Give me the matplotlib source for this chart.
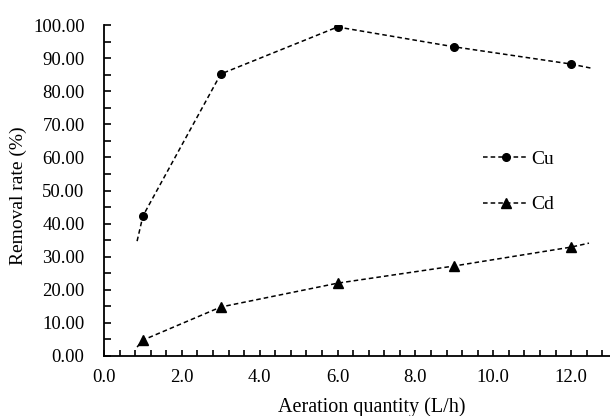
import matplotlib
matplotlib.use("Agg")
from matplotlib import pyplot as plt
from matplotlib.ticker import MultipleLocator, FormatStrFormatter

plt.rcParams['font.family'] = ['Liberation Serif', 'DejaVu Serif']

# measured points
aeration = [1.0, 3.0, 6.0, 9.0, 12.0]
cu_removal = [42.3, 85.2, 99.4, 93.4, 88.2]
cd_removal = [4.8, 14.8, 22.0, 27.2, 32.9]

# the dashed lines run a little past the first and last points
cu_line_x = [0.85, 1.0, 3.0, 6.0, 9.0, 12.0, 12.5]
cu_line_y = [34.7, 42.3, 85.2, 99.4, 93.4, 88.2, 87.0]
cd_line_x = [0.85, 1.0, 3.0, 6.0, 9.0, 12.0, 12.46]
cd_line_y = [2.7, 4.8, 14.8, 22.0, 27.2, 32.9, 34.1]

fig = plt.figure(figsize=(6.1, 4.16), dpi=100)
ax = fig.add_axes([104 / 610, 60 / 416, 506 / 610, 331 / 416])

dash = (0, (3, 2))
ax.plot(cu_line_x, cu_line_y, color='black', lw=1.1, linestyle=dash)
ax.plot(cd_line_x, cd_line_y, color='black', lw=1.1, linestyle=dash)
ax.plot(aeration, cu_removal, 'o', color='black', ms=5.5)
ax.plot(aeration, cd_removal, '^', color='black', ms=6.5)

# legend handles
ax.plot([], [], color='black', lw=1.1, linestyle=dash, marker='o', ms=5.5, label='Cu')
ax.plot([], [], color='black', lw=1.1, linestyle=dash, marker='^', ms=6.5, label='Cd')
ax.legend(loc='upper left', bbox_to_anchor=(0.715, 0.675), frameon=False,
          fontsize=14, handlelength=2.3, handletextpad=0.15, labelspacing=1.45)

ax.set_xlim(0, 13.0)
ax.set_ylim(0, 100)
ax.xaxis.set_major_locator(MultipleLocator(2.0))
ax.xaxis.set_minor_locator(MultipleLocator(0.4))
ax.yaxis.set_major_locator(MultipleLocator(10))
ax.yaxis.set_minor_locator(MultipleLocator(5))
ax.xaxis.set_major_formatter(FormatStrFormatter('%.1f'))
ax.yaxis.set_major_formatter(FormatStrFormatter('%.2f'))

for s in ['top', 'right']:
    ax.spines[s].set_visible(False)
for s in ['left', 'bottom']:
    ax.spines[s].set_linewidth(1.3)

ax.tick_params(axis='x', which='both', direction='in', length=4, width=1.2,
               labelsize=13.5, pad=9)
ax.tick_params(axis='y', which='both', direction='in', length=5, width=1.2,
               labelsize=13.5, pad=14)

ax.set_xlabel('Aeration quantity (L/h)', fontsize=14.5)
ax.set_ylabel('Removal rate (%)', fontsize=14)
ax.xaxis.set_label_coords(0.53, -0.125)
ax.yaxis.set_label_coords(-0.152, 0.483)

fig.savefig('out.png', dpi=100)
